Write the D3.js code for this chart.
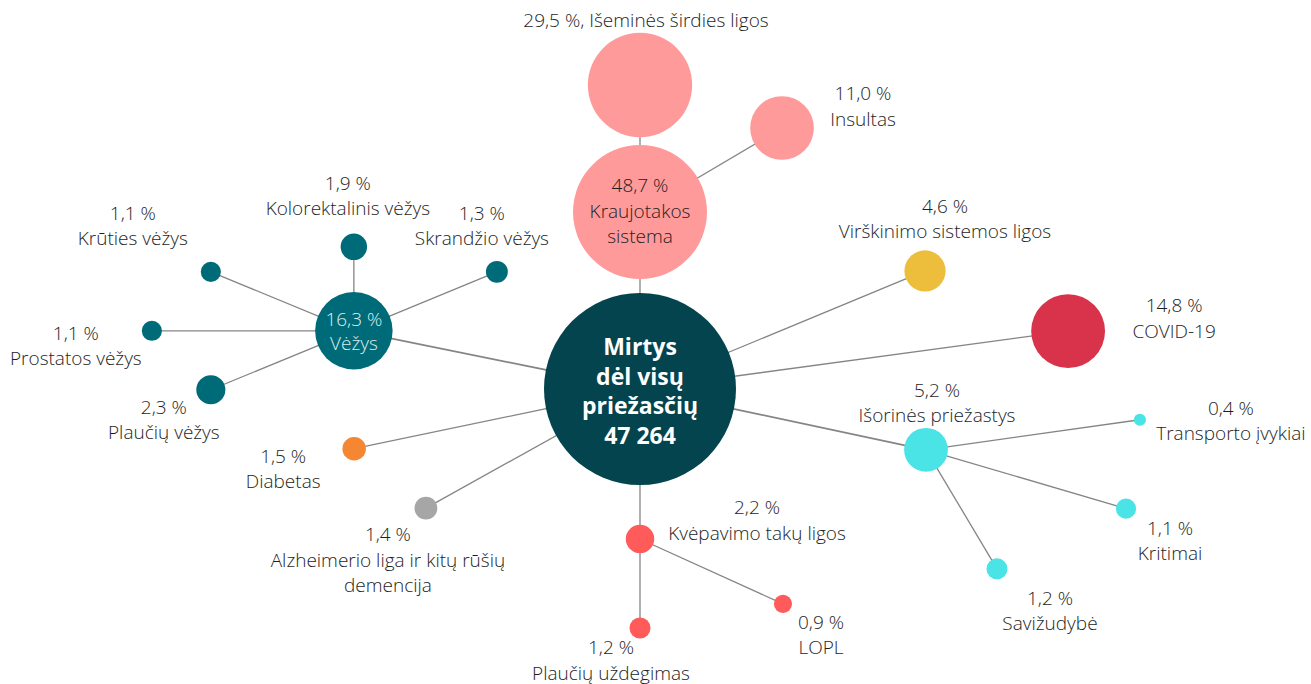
<!DOCTYPE html>
<html lang="lt">
<head>
<meta charset="utf-8">
<script src="https://cdn.jsdelivr.net/npm/d3@7"></script>
<style>
  html, body { margin: 0; padding: 0; background: #ffffff; }
  svg { display: block; }
  text { font-family: "Open Sans", Lato, "Noto Sans", sans-serif; }
</style>
</head>
<body>
<svg id="chart" width="1311" height="684"></svg>
<script>
// ---- Data ----
const ids = ["root","kraujo","isem","insult","virsk","covid","isor","transp","krit","saviz","kvep","pneum","lopl","alz","diab","vez","kolor","krut","skrand","prost","plvez"];
const values = [100, 48.7, 29.5, 11.0, 4.6, 14.8, 5.2, 0.4, 1.1, 1.2, 2.2, 1.2, 0.9, 1.4, 1.5, 16.3, 1.9, 1.1, 1.3, 1.1, 2.3];
const parents = [null,"root","kraujo","kraujo","root","root","root","isor","isor","isor","root","kvep","kvep","root","root","root","vez","vez","vez","vez","vez"];
const names = [
  ["Mirtys","dėl visų","priežasčių","47 264"],
  ["Kraujotakos","sistema"],
  ["Išeminės širdies ligos"],
  ["Insultas"],
  ["Virškinimo sistemos ligos"],
  ["COVID-19"],
  ["Išorinės priežastys"],
  ["Transporto įvykiai"],
  ["Kritimai"],
  ["Savižudybė"],
  ["Kvėpavimo takų ligos"],
  ["Plaučių uždegimas"],
  ["LOPL"],
  ["Alzheimerio liga ir kitų rūšių","demencija"],
  ["Diabetas"],
  ["Vėžys"],
  ["Kolorektalinis vėžys"],
  ["Krūties vėžys"],
  ["Skrandžio vėžys"],
  ["Prostatos vėžys"],
  ["Plaučių vėžys"]
];
const groups = ["root","kraujo","kraujo","kraujo","virsk","covid","isor","isor","isor","isor","kvep","kvep","kvep","alz","diab","vez","vez","vez","vez","vez","vez"];

// ---- Layout (angle in degrees relative to parent, distance in px) ----
const angles    = [0, -90, -90, -30.6, -22.5, -7.7, 12.0, -8.0, 16.4, 59.2, 90, 90, 24.4, 150.9, 168.2, 191.5, -90, -157.6, -22.4, 180, 157.6];
const distances = [0, 177, 127, 165, 308.5, 432, 292.4, 216, 208.5, 138.6, 150, 89, 157, 245, 292, 292, 84, 154.7, 154.7, 202, 154.7];
// label placement: offset of first line centre from node centre
const labelDx = [0, 0, 6, 81, 20, 106, 11, 91, 44, 53, 117, -29, 38, -38, -71, 0, -6, -78, -15, -76, -47];
const labelDy = [-43, -27, -65, -35, -65, -26, -60, -12, 19, 29, -32, 19, 18, 26, 7, -12, -64, -59, -59, 2, 17];

const colors = {
  root: "#03444e", kraujo: "#ff9a9a", virsk: "#ecbe3b", covid: "#d8334a",
  isor: "#4ae3e6", kvep: "#ff5b5b", alz: "#a6a6a6", diab: "#f58632", vez: "#006b78"
};

const fmt = v => d3.format(".1f")(v).replace(".", ",") + " %";

// ---- Build nodes ----
const center = [640, 389];
const r = d3.scaleSqrt().domain([0, 100]).range([0, 96]);
const nodes = ids.map((id, i) => ({
  id, value: values[i], parent: parents[i], name: names[i], group: groups[i],
  angle: angles[i], dist: distances[i], ldx: labelDx[i], ldy: labelDy[i]
}));
const byId = new Map(nodes.map(n => [n.id, n]));
nodes.forEach(n => {
  if (!n.parent) { n.x = center[0]; n.y = center[1]; return; }
  const p = byId.get(n.parent);
  const a = n.angle * Math.PI / 180;
  n.x = p.x + n.dist * Math.cos(a);
  n.y = p.y + n.dist * Math.sin(a);
});

const svg = d3.select("#chart");

// links
svg.append("g").selectAll("line")
  .data(nodes.filter(n => n.parent))
  .join("line")
  .attr("x1", d => byId.get(d.parent).x)
  .attr("y1", d => byId.get(d.parent).y)
  .attr("x2", d => d.x)
  .attr("y2", d => d.y)
  .attr("stroke", "#858585")
  .attr("stroke-width", d => (d.id === "vez" || d.id === "isor") ? 1.8 : 1.3);

// circles
svg.append("g").selectAll("circle")
  .data(nodes)
  .join("circle")
  .attr("cx", d => d.x)
  .attr("cy", d => d.y)
  .attr("r", d => r(d.value))
  .attr("fill", d => colors[d.group]);

// labels
const lineH = 25.5;
const lab = svg.append("g").selectAll("text")
  .data(nodes)
  .join("text")
  .attr("text-anchor", "middle")
  .attr("dominant-baseline", "central")
  .attr("font-size", d => d.id === "root" ? 23 : 19)
  .attr("font-weight", d => d.id === "root" ? 700 : 300)
  .attr("fill", d => d.id === "root" ? "#ffffff" : d.id === "vez" ? "#d6eef0" : "#1e1e1e");

lab.each(function(d) {
  const t = d3.select(this);
  let lines;
  if (d.id === "root") lines = d.name;
  else if (d.id === "isem") lines = [fmt(d.value) + ", " + d.name[0]];
  else lines = [fmt(d.value), ...d.name];
  const lh = d.id === "root" ? 29.5 : (d.id === "vez" ? 24 : lineH);
  lines.forEach((s, k) => {
    t.append("tspan")
      .attr("x", d.x + d.ldx)
      .attr("y", d.y + d.ldy + k * lh)
      .text(s);
  });
});
</script>
</body>
</html>
